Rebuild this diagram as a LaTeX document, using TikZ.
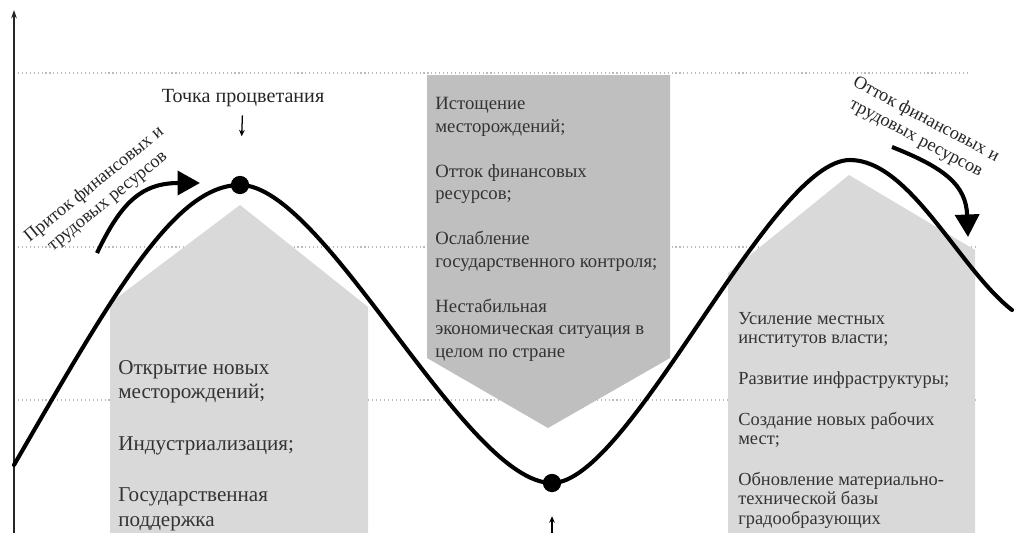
\documentclass[tikz,border=0pt]{standalone}
\usepackage{fontspec}
\setmainfont{Liberation Serif}
\usetikzlibrary{arrows.meta}
\definecolor{lightg}{HTML}{D9D9D9}
\definecolor{midg}{HTML}{BFBFBF}
\definecolor{txt}{HTML}{333333}
\definecolor{gridc}{HTML}{BBBBBB}
\begin{document}
\begin{tikzpicture}[x=0.025cm,y=-0.025cm,
  gridline/.style={draw=gridc, line width=0.8pt, dotted},
  house/.style={fill=lightg, draw=none},
  pent/.style={fill=midg, draw=none},
  wave/.style={line width=2.9pt, line cap=round},
  flow/.style={line width=2.9pt, -{Triangle[length=16pt,width=17pt]}},
  dot/.style={circle, fill=black, inner sep=0pt, minimum size=13pt},
  boxtext/.style={align=left, text=txt, inner sep=0pt, anchor=north west},
  flowlabel/.style={align=center, font=\fontsize{13}{15}\selectfont, text=black!85, inner sep=0pt},
  ptr/.style={line width=0.9pt, -{Stealth[length=4.5pt,width=4pt]}},
  axis/.style={line width=1.4pt, draw=black!85, -{Stealth[length=6pt,width=4pt]}}]
\useasboundingbox (0,0) rectangle (1016,532);
% grid lines
\draw[gridline] (14,73) -- (970,73);
\draw[gridline] (14,247) -- (978,247);
\draw[gridline] (14,400) -- (975,400);
% axis
\coordinate (axb) at (14,535);
\coordinate (axt) at (14,10);
\draw[axis] (axb) -- (axt);
% shapes
\fill[house] (110,540) -- (110,303) -- (240,205) -- (368,307) -- (368,540) -- cycle;
\fill[pent] (427,75) -- (670,75) -- (670,358) -- (548,428) -- (427,358) -- cycle;
\fill[house] (728,540) -- (728,273) -- (849,175) -- (975,250) -- (975,540) -- cycle;
% curve
\coordinate (w0) at (14,465);
\coordinate (top) at (240,185);
\coordinate (trough) at (552,483);
\coordinate (peak2) at (850,160);
\coordinate (w4) at (1012,310);
\draw[wave] (w0) .. controls (114,292) and (175,185) .. (top)
  .. controls (325,185) and (465,483) .. (trough)
  .. controls (630,483) and (770,160) .. (peak2)
  .. controls (910,160) and (960,270) .. (w4);
\node[dot] (topdot) at (top) {};
\node[dot] (botdot) at (trough) {};
% texts
\node[boxtext, font=\fontsize{15}{17.5}\selectfont] (ltext) at (118,360)
  {Открытие новых\\месторождений;\\[19pt]Индустриализация;\\[19pt]Государственная\\поддержка};
\node[boxtext, font=\fontsize{13.3}{16}\selectfont] (mtext) at (435,97)
  {Истощение\\месторождений;\\[16pt]Отток финансовых\\ресурсов;\\[16pt]Ослабление\\государственного контроля;\\[16pt]Нестабильная\\экономическая ситуация в\\целом по стране};
\node[boxtext, font=\fontsize{13.1}{13.9}\selectfont] (rtext) at (738,312)
  {Усиление местных\\институтов власти;\\[15pt]Развитие инфраструктуры;\\[15pt]Создание новых рабочих\\мест;\\[15pt]Обновление материально-\\технической базы\\градообразующих};
\node[font=\fontsize{14.3}{16}\selectfont, text=black!85, inner sep=0pt] (title) at (243,98) {Точка процветания};
\node[flowlabel, rotate=39] (inlab) at (101,193) {Приток финансовых и\\трудовых ресурсов};
\node[flowlabel, rotate=-28] (outlab) at (921,129) {Отток финансовых и\\трудовых ресурсов};
% flow arrows
\coordinate (in0) at (97,253);
\coordinate (in1) at (200,183);
\draw[flow] (in0) .. controls (120,205) and (140,183) .. (in1);
\coordinate (out0) at (892,147);
\coordinate (out1) at (968,237);
\draw[flow] (out0) .. controls (945,168) and (966,185) .. (out1);
% pointers
\draw[ptr, shorten <=6pt, shorten >=28pt] (title) -- (topdot);
\coordinate (pb) at (552,540);
\draw[ptr, shorten >=17pt] (pb) -- (botdot);
\end{tikzpicture}
\end{document}
